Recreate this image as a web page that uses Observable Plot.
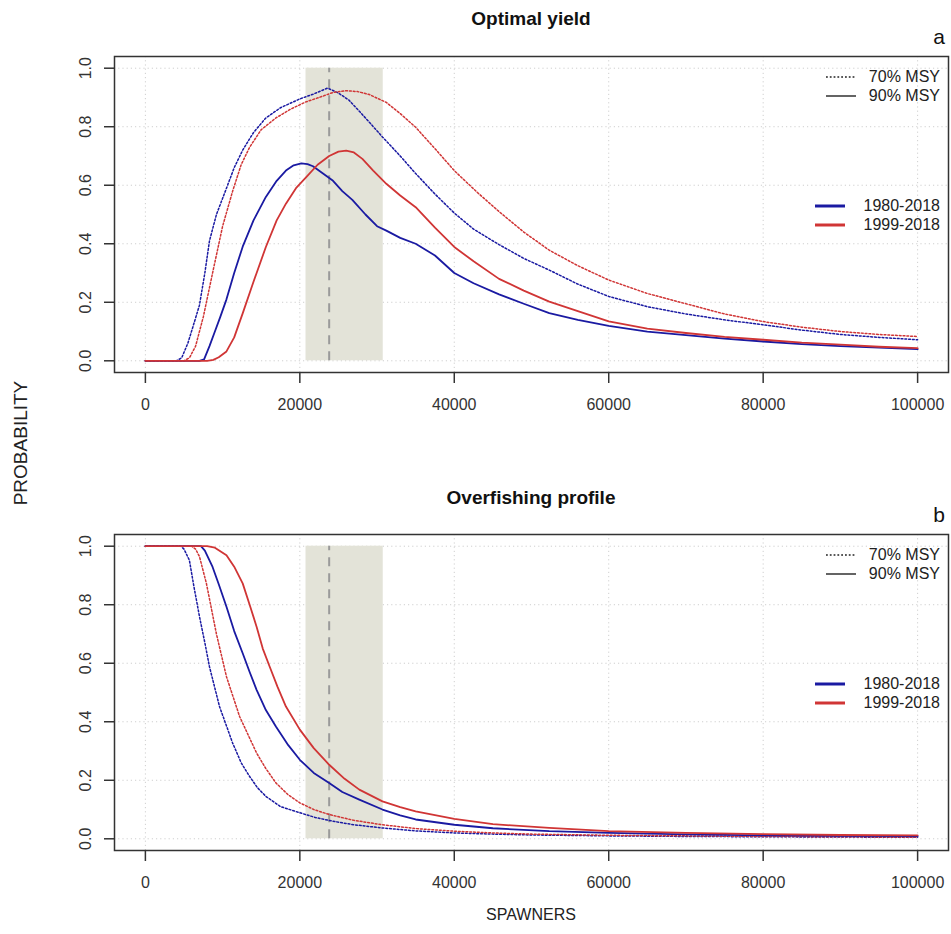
<!DOCTYPE html>
<html><head><meta charset="utf-8">
<script src="https://cdn.jsdelivr.net/npm/d3@7"></script>
<script src="https://cdn.jsdelivr.net/npm/@observablehq/plot@0.6"></script>
<style>
body{margin:0;background:#fff;font-family:"Liberation Sans",Arial,sans-serif;color:#222}
#fig{position:relative;width:951px;height:934px;overflow:hidden;background:#fff}
.abs{position:absolute;white-space:nowrap}
</style></head><body><div id="fig"></div>
<script>
// ---- data ----
const xTicks = [0, 20000, 40000, 60000, 80000, 100000];
const yTicks = [0, 0.2, 0.4, 0.6, 0.8, 1.0];
const shadedRange = [20800, 30800];
const referenceSpawners = [23800];
const periods = ["1980-2018", "1999-2018"];
const msyLevels = ["70% MSY", "90% MSY"];
const panelTitles = ["Optimal yield", "Overfishing profile"];
const panelLetters = ["a", "b"];

// Optimal yield profile, 70% MSY, 1980-2018  [spawners, probability]
const yield70_1980 = [[0,0],[4000,0],[4700,0.01],[5500,0.06],[6200,0.12],[7000,0.19],[7700,0.30],[8300,0.41],[9200,0.50],[10500,0.59],[11500,0.66],[12600,0.72],[14000,0.78],[15600,0.83],[17500,0.865],[20000,0.895],[21700,0.911],[23600,0.932],[25000,0.915],[26400,0.89],[28500,0.83],[30700,0.765],[33000,0.70],[35000,0.64],[37500,0.57],[40000,0.505],[42500,0.45],[45800,0.397],[49000,0.35],[52300,0.31],[56000,0.262],[60000,0.22],[65000,0.185],[70000,0.16],[75000,0.14],[80000,0.123],[85000,0.105],[90000,0.09],[95000,0.08],[100000,0.072]];
// Optimal yield profile, 70% MSY, 1999-2018
const yield70_1999 = [[0,0],[5000,0],[5700,0.01],[6500,0.05],[7500,0.15],[8700,0.30],[10000,0.46],[11300,0.58],[12400,0.67],[13500,0.73],[15000,0.79],[16900,0.83],[18800,0.86],[20800,0.885],[22500,0.90],[24300,0.917],[26000,0.923],[27500,0.92],[29000,0.91],[31200,0.883],[33000,0.845],[35000,0.798],[37500,0.725],[40000,0.65],[43000,0.575],[45800,0.51],[49000,0.44],[52300,0.378],[56000,0.325],[60000,0.276],[65000,0.23],[70000,0.195],[75000,0.16],[80000,0.134],[85000,0.115],[90000,0.10],[95000,0.09],[100000,0.083]];
// Optimal yield profile, 90% MSY, 1980-2018
const yield90_1980 = [[0,0],[7000,0],[7600,0.005],[8300,0.05],[9000,0.10],[9700,0.15],[10500,0.21],[11500,0.30],[12600,0.39],[14000,0.48],[15600,0.56],[17000,0.615],[18200,0.65],[19200,0.668],[20200,0.675],[21000,0.672],[21700,0.665],[23000,0.64],[24300,0.615],[25500,0.58],[26800,0.55],[28500,0.50],[30000,0.46],[31200,0.445],[33000,0.42],[35000,0.40],[37500,0.36],[40000,0.30],[42500,0.265],[45800,0.227],[49000,0.195],[52300,0.163],[56000,0.14],[60000,0.119],[65000,0.10],[70000,0.088],[75000,0.076],[80000,0.066],[85000,0.057],[90000,0.05],[95000,0.045],[100000,0.04]];
// Optimal yield profile, 90% MSY, 1999-2018
const yield90_1999 = [[0,0],[8000,0],[8800,0.003],[9500,0.012],[10500,0.032],[11500,0.08],[12600,0.162],[14000,0.27],[15600,0.389],[17000,0.48],[18200,0.537],[19500,0.59],[20800,0.627],[22300,0.67],[23800,0.70],[25000,0.715],[26000,0.718],[27000,0.712],[28100,0.69],[29500,0.65],[31200,0.605],[33000,0.565],[35000,0.525],[37500,0.455],[40000,0.389],[42500,0.34],[45800,0.28],[49000,0.24],[52300,0.202],[56000,0.17],[60000,0.135],[65000,0.11],[70000,0.095],[75000,0.082],[80000,0.072],[85000,0.062],[90000,0.055],[95000,0.048],[100000,0.043]];

// Overfishing profile, 70% MSY, 1980-2018
const over70_1980 = [[0,1],[4600,1],[5000,0.99],[5700,0.952],[6300,0.86],[7000,0.76],[7700,0.67],[8300,0.588],[9600,0.452],[11300,0.327],[12400,0.26],[13500,0.213],[14500,0.175],[15600,0.145],[17500,0.11],[20000,0.089],[22000,0.073],[24300,0.06],[27000,0.048],[30700,0.037],[35000,0.027],[40000,0.02],[45000,0.016],[50000,0.013],[60000,0.01],[70000,0.008],[80000,0.007],[90000,0.006],[100000,0.005]];
// Overfishing profile, 70% MSY, 1999-2018
const over70_1999 = [[0,1],[6000,1],[6500,0.99],[7000,0.965],[7900,0.873],[9200,0.70],[10500,0.554],[12200,0.418],[14400,0.293],[15600,0.24],[16900,0.191],[18500,0.15],[20000,0.123],[21800,0.10],[23800,0.083],[27000,0.063],[30700,0.048],[35000,0.035],[40000,0.026],[45000,0.02],[50000,0.016],[60000,0.012],[70000,0.01],[80000,0.008],[90000,0.007],[100000,0.006]];
// Overfishing profile, 90% MSY, 1980-2018
const over90_1980 = [[0,1],[7200,1],[7700,0.985],[8700,0.929],[9500,0.87],[10500,0.793],[11500,0.71],[12600,0.634],[13500,0.57],[14400,0.509],[15600,0.44],[16900,0.384],[18500,0.32],[20000,0.27],[21800,0.225],[23800,0.191],[25500,0.16],[27700,0.134],[30700,0.10],[33000,0.08],[35000,0.066],[40000,0.048],[45000,0.036],[52300,0.026],[60000,0.02],[70000,0.015],[80000,0.012],[90000,0.01],[100000,0.009]];
// Overfishing profile, 90% MSY, 1999-2018
const over90_1999 = [[0,1],[8000,1],[9000,0.995],[10500,0.969],[11500,0.93],[12600,0.873],[13500,0.80],[14400,0.725],[15200,0.65],[16100,0.588],[17100,0.52],[18200,0.452],[20000,0.373],[21800,0.31],[23800,0.253],[25800,0.205],[27700,0.168],[30700,0.128],[33000,0.108],[35000,0.094],[40000,0.068],[45000,0.05],[52300,0.037],[60000,0.026],[70000,0.02],[80000,0.016],[90000,0.013],[100000,0.012]];

// ---- styling ----
const periodColors = ["#1a1aa2", "#d03535"];
const FONT = '"Liberation Sans", Arial, sans-serif';
const fig = document.getElementById("fig");

function panel({series, top, height, marginTop, marginBottom}) {
  const marks = [
    Plot.ruleX(xTicks, {stroke: "#cfcfcf", strokeWidth: 1, strokeDasharray: "1.2,3"}),
    Plot.ruleY(yTicks, {stroke: "#cfcfcf", strokeWidth: 1, strokeDasharray: "1.2,3"}),
    Plot.rectY([shadedRange], {x1: d => d[0], x2: d => d[1], y1: 0, y2: 1, fill: "#e3e3d8"}),
    Plot.ruleX(referenceSpawners, {y1: 0, y2: 1, stroke: "#9a9a9a", strokeWidth: 2, strokeDasharray: "9,7"})
  ];
  for (const s of series) {
    marks.push(Plot.line(s.data, {x: d => d[0], y: d => d[1], stroke: s.color,
      strokeWidth: s.dotted ? 1.5 : 1.8, strokeDasharray: s.dotted ? "1.8,2" : null}));
  }
  marks.push(
    Plot.axisX(xTicks, {tickSize: 11, tickPadding: 15, tickFormat: d3.format("d"), stroke: "#333", strokeWidth: 1.5}),
    Plot.axisY(yTicks, {tickSize: 10, tickPadding: 14, tickRotate: -90, tickFormat: d3.format(".1f"), stroke: "#333", strokeWidth: 1.5}),
    Plot.frame({stroke: "#333", strokeWidth: 1.5})
  );
  const svg = Plot.plot({
    width: 951, height, marginLeft: 114, marginRight: 3, marginTop, marginBottom,
    x: {domain: [-4000, 104000], axis: null},
    y: {domain: [-0.04, 1.04], axis: null},
    style: {fontSize: "16px", fontFamily: FONT, color: "#333", background: "transparent", overflow: "visible"},
    marks
  });
  svg.style.position = "absolute";
  svg.style.left = "0px";
  svg.style.top = top + "px";
  fig.appendChild(svg);
}

panel({top: 0, height: 440, marginTop: 56, marginBottom: 68, series: [
  {data: yield70_1980, color: periodColors[0], dotted: true},
  {data: yield70_1999, color: periodColors[1], dotted: true},
  {data: yield90_1980, color: periodColors[0], dotted: false},
  {data: yield90_1999, color: periodColors[1], dotted: false}
]});
panel({top: 440, height: 494, marginTop: 94, marginBottom: 84, series: [
  {data: over70_1980, color: periodColors[0], dotted: true},
  {data: over70_1999, color: periodColors[1], dotted: true},
  {data: over90_1980, color: periodColors[0], dotted: false},
  {data: over90_1999, color: periodColors[1], dotted: false}
]});

// ---- titles, labels, legends ----
function addText(txt, css) {
  const d = document.createElement("div");
  d.className = "abs";
  d.textContent = txt;
  Object.assign(d.style, css);
  fig.appendChild(d);
  return d;
}
const frameTops = [56, 534];
panelTitles.forEach((t, i) => addText(t, {left: "114px", width: "834px", textAlign: "center",
  top: (i ? 487 : 8) + "px", fontSize: "19px", fontWeight: "bold", lineHeight: "22px", color: "#111"}));
panelLetters.forEach((t, i) => addText(t, {left: "900px", width: "45px", textAlign: "right",
  top: (i ? 503 : 25) + "px", fontSize: "21px", lineHeight: "24px", color: "#111"}));
addText("SPAWNERS", {left: "114px", width: "834px", textAlign: "center", top: "905px", fontSize: "16px", lineHeight: "20px", color: "#222"});
addText("PROBABILITY", {left: "21px", top: "443px", fontSize: "19px", lineHeight: "20px", color: "#222",
  transform: "translate(-50%,-50%) rotate(-90deg)"});

function legendRow(label, y, seg, segStyle) {
  const s = document.createElementNS("http://www.w3.org/2000/svg", "svg");
  s.setAttribute("width", seg[1] - seg[0] + 2);
  s.setAttribute("height", 8);
  s.style.position = "absolute";
  s.style.left = (seg[0] - 1) + "px";
  s.style.top = (y - 4) + "px";
  const l = document.createElementNS("http://www.w3.org/2000/svg", "line");
  l.setAttribute("x1", 1); l.setAttribute("x2", seg[1] - seg[0] + 1);
  l.setAttribute("y1", 4); l.setAttribute("y2", 4);
  l.setAttribute("stroke", segStyle.color);
  l.setAttribute("stroke-width", segStyle.width);
  if (segStyle.dash) l.setAttribute("stroke-dasharray", segStyle.dash);
  s.appendChild(l);
  fig.appendChild(s);
  addText(label, {left: "840px", width: "100px", textAlign: "right", top: (y - 10) + "px",
    fontSize: "16px", lineHeight: "20px", color: "#222"});
}
frameTops.forEach(ft => {
  legendRow(msyLevels[0], ft + 21, [826, 856], {color: "#222", width: 1.4, dash: "1.8,2"});
  legendRow(msyLevels[1], ft + 40, [826, 856], {color: "#222", width: 1.4});
  legendRow(periods[0], ft + 150, [815, 845], {color: periodColors[0], width: 3});
  legendRow(periods[1], ft + 169, [815, 845], {color: periodColors[1], width: 3});
});
</script></body></html>
